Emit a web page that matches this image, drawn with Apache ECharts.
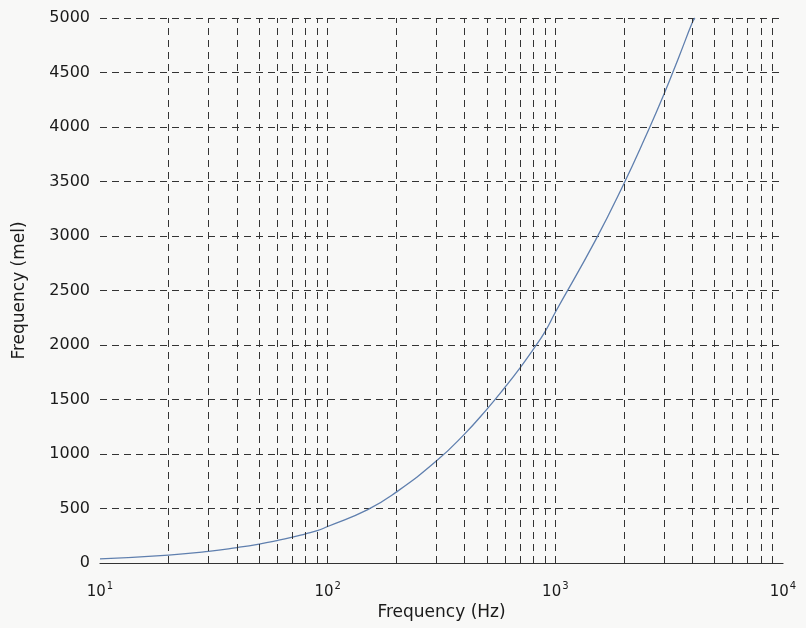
<!DOCTYPE html>
<html><head><meta charset="utf-8">
<script src="https://cdn.jsdelivr.net/npm/echarts@6/dist/echarts.min.js"></script>
<style>html,body{margin:0;padding:0;background:#f8f8f7}#c{width:806px;height:628px}</style>
</head><body><div id="c"></div>
<script>
// Frequency in Hz (x) and mel (y)
var freqHz = [10, 20, 30, 40, 50, 60, 70, 80, 90, 100, 150, 200, 300, 400, 500, 600, 700, 800, 900, 1000, 1500, 2000, 2500, 3000, 3500, 4000, 4100];
var melValues = [38, 73, 107, 142, 174, 206, 237, 268, 296, 335, 490, 650, 935, 1185, 1410, 1610, 1790, 1960, 2120, 2300, 2960, 3480, 3920, 4300, 4650, 4960, 5000];
// Vertical grid positions (log decades and their minor steps)
var xGridValues = [20,30,40,50,60,70,80,90,100,200,300,400,500,600,700,800,900,1000,2000,3000,4000,5000,6000,7000,8000,9000];
var yTicks = [0, 500, 1000, 1500, 2000, 2500, 3000, 3500, 4000, 4500, 5000];
var xTickLabels = {10: '1', 100: '2', 1000: '3', 10000: '4'};

var FONT = 'DejaVu Sans';
var chart = echarts.init(document.getElementById('c'), null, {renderer: 'canvas'});
var dash = [7, 5];
chart.setOption({
  backgroundColor: '#f8f8f7',
  animation: false,
  grid: {left: 100, right: 23, top: 18, bottom: 65},
  xAxis: {
    type: 'log', logBase: 10, min: 10, max: 10000,
    name: 'Frequency (Hz)', nameLocation: 'middle', nameGap: 38,
    nameTextStyle: {fontFamily: FONT, fontSize: 17, color: '#1a1a1a'},
    axisLine: {show: true, lineStyle: {color: '#333', width: 1.2}},
    axisTick: {show: false},
    splitLine: {show: false},
    axisLabel: {
      margin: 18,
      formatter: function (v) { var e = xTickLabels[Math.round(v)]; return e ? '{b|10}{s|' + e + '}' : ''; },
      rich: {
        b: {fontFamily: FONT, fontSize: 15, color: '#1a1a1a'},
        s: {fontFamily: FONT, fontSize: 10, color: '#1a1a1a', verticalAlign: 'bottom', padding: [0, 0, 12, 1]}
      }
    }
  },
  yAxis: {
    type: 'value', min: 0, max: 5000, interval: 500,
    name: 'Frequency (mel)', nameLocation: 'middle', nameGap: 72, nameRotate: 90,
    nameTextStyle: {fontFamily: FONT, fontSize: 17, color: '#1a1a1a'},
    axisLine: {show: false},
    axisTick: {show: false},
    axisLabel: {fontFamily: FONT, fontSize: 16, color: '#1a1a1a', margin: 10,
      formatter: function (v) { return yTicks.indexOf(v) >= 0 ? String(v) : ''; }},
    splitLine: {show: true, lineStyle: {color: '#333', type: dash, width: 1}}
  },
  series: [{
    type: 'line',
    data: freqHz.map(function (f, i) { return [f, melValues[i]]; }),
    smooth: true,
    showSymbol: false,
    lineStyle: {color: '#5f7fae', width: 1.3},
    markLine: {
      silent: true, symbol: ['none', 'none'],
      label: {show: false},
      lineStyle: {color: '#333', type: dash, width: 1},
      data: xGridValues.map(function (v) { return {xAxis: v}; })
    },
    z: 3
  }]
});
</script></body></html>
